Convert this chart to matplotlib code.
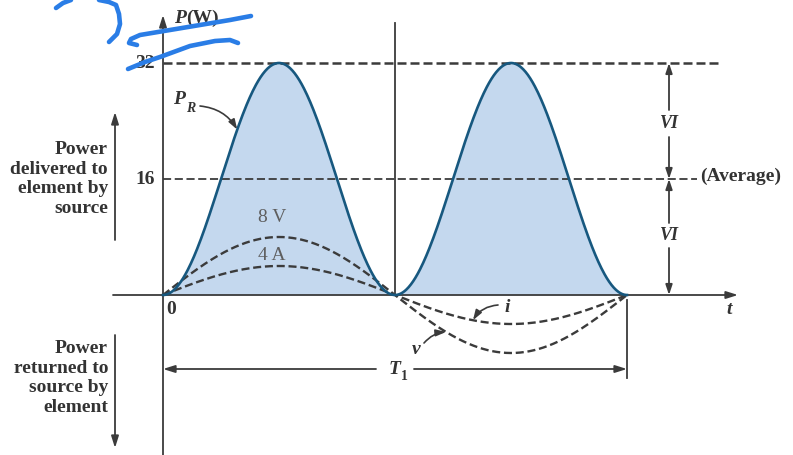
import numpy as np
import matplotlib.pyplot as plt

# peak values of the applied voltage and the resulting current
v_peak = 8       # V
i_peak = 4       # A
T1 = 1.0         # one period of v and i
p_ticks = [16, 32]
p_labels = ['16', '32']

t = np.linspace(0, T1, 600)
v = v_peak * np.sin(2 * np.pi * t / T1)
i = i_peak * np.sin(2 * np.pi * t / T1)
p = v * i
p_max = v_peak * i_peak
p_avg = p_max / 2

FONT = 'Liberation Serif'
INK = '#3b3b3b'
TXT = '#333333'

# sketch coordinates -> data coordinates (origin of the axes at 163, 295)
X0, XS = 163.0, 464.0
Y0, YS = 295.0, 7.25


def at(x, y):
    return ((x - X0) / XS, (Y0 - y) / YS)


def arrow(tail, tip, lw=1.3, hl=0.7, hw=0.22, rad=0.0):
    ax.annotate('', xy=tip, xytext=tail,
                arrowprops=dict(arrowstyle='-|>,head_length=%s,head_width=%s' % (hl, hw),
                                color=INK, lw=lw, shrinkA=0, shrinkB=0,
                                connectionstyle='arc3,rad=%s' % rad))


fig = plt.figure(figsize=(7.93, 4.55), dpi=100)
ax = fig.add_axes([0, 0, 1, 1])
ax.set_xlim(at(0, 0)[0], at(793, 0)[0])
ax.set_ylim(at(0, 455)[1], at(0, 0)[1])
ax.axis('off')

# power curve
ax.fill_between(t, 0, p, color='#c4d8ee', lw=0, zorder=1)
ax.plot(t, p, color='#17587f', lw=1.9, zorder=4)

# voltage and current
ax.plot(t, v, color=INK, lw=1.7, dashes=(3.4, 1.6), zorder=3)
ax.plot(t, i, color=INK, lw=1.7, dashes=(3.4, 1.6), zorder=3)

# axes
arrow(at(163, 455), at(163, 15), lw=1.3)
arrow(at(113, 295), at(738, 295), lw=1.3)
ax.plot([T1 / 2, T1 / 2], [0, at(0, 23)[1]], color=INK, lw=1.3, zorder=2)

# level lines
ax.plot([0, at(720, 0)[0]], [p_max, p_max], color=INK, lw=1.8, dashes=(3.6, 1.6), zorder=2)
ax.plot([0, at(697, 0)[0]], [p_avg, p_avg], color=INK, lw=1.3, dashes=(4.5, 2.0), zorder=2)

for val, lab in zip(p_ticks, p_labels):
    ax.text(at(145, 0)[0], val, lab, family=FONT, weight='bold', fontsize=14,
            color=TXT, ha='center', va='center')

ax.text(*at(171, 309), '0', family=FONT, weight='bold', fontsize=14,
        color=TXT, ha='center', va='center')
ax.text(*at(729, 310), 't', family=FONT, weight='bold', style='italic', fontsize=14,
        color=TXT, ha='center', va='center')
ax.text(*at(700, 176), '(Average)', family=FONT, weight='bold', fontsize=14,
        color=TXT, ha='left', va='center')

# P(W) axis title
ax.text(*at(174, 18), 'P', family=FONT, weight='bold', style='italic', fontsize=14,
        color=TXT, ha='left', va='center')
ax.text(*at(186, 18), '(W)', family=FONT, weight='bold', fontsize=14,
        color=TXT, ha='left', va='center')

# P_R label
ax.text(*at(173, 100), 'P', family=FONT, weight='bold', style='italic', fontsize=14,
        color=TXT, ha='left', va='center')
ax.text(*at(186, 108), 'R', family=FONT, weight='bold', style='italic', fontsize=10,
        color=TXT, ha='left', va='center')
t_pr = 0.16
arrow(at(200, 106), (t_pr, np.interp(t_pr, t, p)), lw=1.2, hl=0.6, hw=0.2, rad=-0.25)

# peak labels on v and i
ax.text(*at(272, 218), '8 V', family=FONT, fontsize=14, color='#5e5e5e',
        ha='center', va='center', zorder=5)
ax.text(*at(272, 255), '4 A', family=FONT, fontsize=14, color='#5e5e5e',
        ha='center', va='center', zorder=5)

# i and v labels in the second half cycle
ax.text(*at(507, 307), 'i', family=FONT, weight='bold', style='italic', fontsize=14,
        color=TXT, ha='center', va='center')
t_i = 0.668
arrow(at(498, 305), (t_i, np.interp(t_i, t, i)), lw=1.2, hl=0.6, hw=0.2, rad=0.25)
ax.text(*at(416, 349), 'v', family=FONT, weight='bold', style='italic', fontsize=14,
        color=TXT, ha='center', va='center')
t_v = 0.61
arrow(at(424, 343), (t_v, np.interp(t_v, t, v)), lw=1.2, hl=0.6, hw=0.2, rad=-0.2)

# period T1
ax.plot([T1, T1], [at(0, 300)[1], at(0, 378)[1]], color=INK, lw=1.3)
y_t1 = at(0, 369)[1]
arrow((at(376, 0)[0], y_t1), (0, y_t1), lw=1.3)
arrow((at(414, 0)[0], y_t1), (T1, y_t1), lw=1.3)
ax.text(at(395, 0)[0], y_t1, 'T', family=FONT, weight='bold', style='italic', fontsize=14,
        color=TXT, ha='center', va='center')
ax.text(at(401, 0)[0], at(0, 376)[1], '1', family=FONT, weight='bold', fontsize=10,
        color=TXT, ha='left', va='center')

# VI dimension marks
x_vi = at(669, 0)[0]
arrow((x_vi, at(0, 110)[1]), (x_vi, p_max), lw=1.3, hl=0.6, hw=0.2)
arrow((x_vi, at(0, 137)[1]), (x_vi, p_avg), lw=1.3, hl=0.6, hw=0.2)
arrow((x_vi, at(0, 223)[1]), (x_vi, p_avg), lw=1.3, hl=0.6, hw=0.2)
arrow((x_vi, at(0, 248)[1]), (x_vi, 0), lw=1.3, hl=0.6, hw=0.2)
for yy in (123, 236):
    ax.text(x_vi, at(0, yy)[1], 'VI', family=FONT, weight='bold', style='italic',
            fontsize=13, color=TXT, ha='center', va='center')

# side notes
ax.text(*at(108, 179), 'Power\ndelivered to\nelement by\nsource', family=FONT,
        weight='bold', fontsize=14, color=TXT, ha='right', va='center', linespacing=1.2)
arrow(at(115, 240), at(115, 112), lw=1.3)
ax.text(*at(108, 378), 'Power\nreturned to\nsource by\nelement', family=FONT,
        weight='bold', fontsize=14, color=TXT, ha='right', va='center', linespacing=1.2)
arrow(at(115, 335), at(115, 448), lw=1.3)

# pen strokes over the corner
strokes = [
    [(56, 8), (63, 3), (71, 0)],
    [(99, 0), (109, 2), (116, 5), (119, 14), (120, 24), (117, 34), (109, 42)],
    [(137, 45), (129, 43), (131, 39), (140, 35), (170, 30), (200, 25), (230, 20), (251, 16)],
    [(128, 69), (145, 62), (160, 57), (190, 46), (215, 41), (230, 40), (238, 43)],
]
for s in strokes:
    pts = np.array([at(x, y) for x, y in s])
    ax.plot(pts[:, 0], pts[:, 1], color='#2a7de6', lw=3.3, solid_capstyle='round',
            solid_joinstyle='round', zorder=10)

fig.savefig('out.png', dpi=100)
